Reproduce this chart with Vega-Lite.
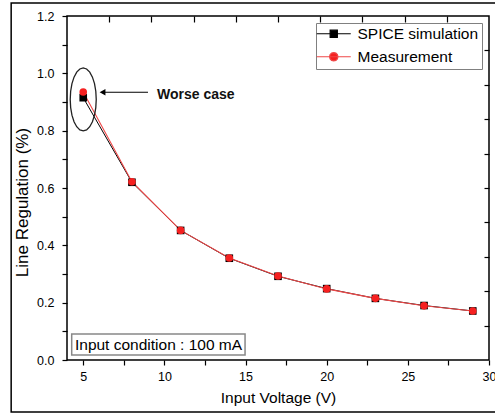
{
  "$schema": "https://vega.github.io/schema/vega-lite/v6.json",
  "width": 422,
  "height": 344,
  "autosize": {"type": "none"},
  "padding": {"left": 67, "top": 16, "right": 6, "bottom": 56},
  "background": "white",
  "config": {
    "font": "Liberation Sans",
    "view": {"stroke": "black", "strokeWidth": 1.5},
    "axis": {"grid": false, "domain": false, "tickColor": "black", "tickWidth": 1.2, "labelColor": "black", "titleColor": "black", "labelFont": "Liberation Sans", "titleFont": "Liberation Sans", "titleFontWeight": "normal"},
    "legend": {"strokeColor": "#808080", "fillColor": "white", "padding": 3, "cornerRadius": 0}
  },
  "datasets": {
    "series": [
      {"voltage": 5, "regulation": 0.915, "series": "SPICE simulation"},
      {"voltage": 8, "regulation": 0.620, "series": "SPICE simulation"},
      {"voltage": 11, "regulation": 0.452, "series": "SPICE simulation"},
      {"voltage": 14, "regulation": 0.355, "series": "SPICE simulation"},
      {"voltage": 17, "regulation": 0.292, "series": "SPICE simulation"},
      {"voltage": 20, "regulation": 0.249, "series": "SPICE simulation"},
      {"voltage": 23, "regulation": 0.215, "series": "SPICE simulation"},
      {"voltage": 26, "regulation": 0.190, "series": "SPICE simulation"},
      {"voltage": 29, "regulation": 0.171, "series": "SPICE simulation"},
      {"voltage": 5, "regulation": 0.935, "series": "Measurement"},
      {"voltage": 8, "regulation": 0.622, "series": "Measurement"},
      {"voltage": 11, "regulation": 0.452, "series": "Measurement"},
      {"voltage": 14, "regulation": 0.356, "series": "Measurement"},
      {"voltage": 17, "regulation": 0.293, "series": "Measurement"},
      {"voltage": 20, "regulation": 0.248, "series": "Measurement"},
      {"voltage": 23, "regulation": 0.215, "series": "Measurement"},
      {"voltage": 26, "regulation": 0.189, "series": "Measurement"},
      {"voltage": 29, "regulation": 0.171, "series": "Measurement"}
    ],
    "one": [{}]
  },
  "layer": [
    {
      "data": {"name": "one"},
      "mark": {"type": "rect", "fillOpacity": 0, "stroke": "black", "strokeWidth": 1.5},
      "encoding": {
        "x": {"datum": 0.56, "type": "quantitative", "scale": {"domain": [4, 30], "nice": false, "zero": false}, "axis": null},
        "x2": {"datum": 32},
        "y": {"datum": -0.181, "type": "quantitative", "scale": {"domain": [0, 1.2], "nice": false, "zero": false}, "axis": null},
        "y2": {"datum": 1.245}
      }
    },
    {
      "data": {"name": "series"},
      "transform": [{"filter": "datum.series === 'SPICE simulation'"}],
      "mark": {"type": "line", "color": "#000000", "strokeWidth": 1},
      "encoding": {
        "x": {"field": "voltage", "type": "quantitative", "scale": {"domain": [4, 30], "nice": false, "zero": false},
          "axis": {"orient": "bottom", "values": [5, 7.5, 10, 12.5, 15, 17.5, 20, 22.5, 25, 27.5, 30],
            "labelExpr": "datum.value % 5 === 0 ? datum.label : ''",
            "tickSize": 5, "labelPadding": 5, "labelFontSize": 12.5, "labelFlush": false,
            "title": "Input Voltage (V)", "titleFontSize": 15.5, "titlePadding": 8,
            "encode": {"ticks": {"update": {"y2": {"signal": "datum.value % 5 === 0 ? 5 : 3"}}}}}},
        "y": {"field": "regulation", "type": "quantitative", "scale": {"domain": [0, 1.2], "nice": false, "zero": false},
          "axis": {"orient": "left", "values": [0, 0.1, 0.2, 0.3, 0.4, 0.5, 0.6, 0.7, 0.8, 0.9, 1.0, 1.1, 1.2],
            "labelExpr": "round(datum.value*10) % 2 === 0 ? format(datum.value, '.1f') : ''",
            "tickSize": 5, "labelPadding": 8, "labelFontSize": 12.5, "labelFlush": false,
            "title": "Line Regulation (%)", "titleFontSize": 17, "titlePadding": 5, "titleY": 186,
            "encode": {"ticks": {"update": {"x2": {"signal": "round(datum.value*10) % 2 === 0 ? -5 : -3"}}}}}}
      }
    },
    {
      "data": {"name": "series"},
      "transform": [{"filter": "datum.series === 'Measurement'"}],
      "mark": {"type": "line", "color": "#f04848", "strokeWidth": 1.1, "opacity": 1},
      "encoding": {
        "x": {"field": "voltage", "type": "quantitative", "scale": {"domain": [4, 30], "nice": false, "zero": false}, "axis": null},
        "y": {"field": "regulation", "type": "quantitative", "scale": {"domain": [0, 1.2], "nice": false, "zero": false}, "axis": null}
      }
    },
    {
      "data": {"name": "series"},
      "transform": [{"filter": "datum.series === 'SPICE simulation'"}],
      "mark": {"type": "point", "shape": "square", "filled": true, "size": 58, "opacity": 1, "color": "#000000"},
      "encoding": {
        "x": {"field": "voltage", "type": "quantitative", "scale": {"domain": [4, 30], "nice": false, "zero": false}, "axis": null},
        "y": {"field": "regulation", "type": "quantitative", "scale": {"domain": [0, 1.2], "nice": false, "zero": false}, "axis": null}
      }
    },
    {
      "data": {"name": "series"},
      "transform": [{"filter": "datum.series === 'Measurement'"}],
      "mark": {"type": "point", "shape": "circle", "filled": true, "size": 58, "opacity": 1, "color": "#f52020"},
      "encoding": {
        "x": {"field": "voltage", "type": "quantitative", "scale": {"domain": [4, 30], "nice": false, "zero": false}, "axis": null},
        "y": {"field": "regulation", "type": "quantitative", "scale": {"domain": [0, 1.2], "nice": false, "zero": false}, "axis": null}
      }
    },
    {
      "data": {"name": "series"},
      "mark": {"type": "point", "filled": true, "size": 0, "opacity": 1, "strokeWidth": 1.2},
      "encoding": {
        "x": {"field": "voltage", "type": "quantitative", "scale": {"domain": [4, 30], "nice": false, "zero": false}, "axis": null},
        "y": {"field": "regulation", "type": "quantitative", "scale": {"domain": [0, 1.2], "nice": false, "zero": false}, "axis": null},
        "fill": {"field": "series", "type": "nominal",
          "scale": {"domain": ["SPICE simulation", "Measurement"], "range": ["#000000", "#f52020"]},
          "legend": {"orient": "none", "legendX": 249, "legendY": 7, "title": null, "labelFontSize": 15.5, "labelColor": "black",
            "labelFont": "Liberation Sans", "symbolSize": 144, "symbolOpacity": 1, "symbolStrokeWidth": 1.2,
            "strokeColor": "#808080", "fillColor": "white",
            "padding": 3, "rowPadding": 6, "labelOffset": 23, "cornerRadius": 0}},
        "stroke": {"field": "series", "type": "nominal",
          "scale": {"domain": ["SPICE simulation", "Measurement"], "range": ["#000000", "#f04848"]},
          "legend": {"orient": "none", "legendX": 249, "legendY": 7, "title": null, "labelFontSize": 15.5, "labelColor": "black",
            "labelFont": "Liberation Sans", "symbolSize": 144, "symbolOpacity": 1, "symbolStrokeWidth": 1.2,
            "strokeColor": "#808080", "fillColor": "white",
            "padding": 3, "rowPadding": 6, "labelOffset": 23, "cornerRadius": 0}},
        "shape": {"field": "series", "type": "nominal",
          "scale": {"domain": ["SPICE simulation", "Measurement"],
            "range": ["M-1.667,0H4M0.567,-0.6H1.767V0.6H0.567Z",
              "M-1.667,0H4M1.867,0L1.773,0.35L1.517,0.606L1.167,0.7L0.817,0.606L0.561,0.35L0.467,0L0.561,-0.35L0.817,-0.606L1.167,-0.7L1.517,-0.606L1.773,-0.35Z"]},
          "legend": {"orient": "none", "legendX": 249, "legendY": 7, "title": null, "labelFontSize": 15.5, "labelColor": "black",
            "labelFont": "Liberation Sans", "symbolSize": 144, "symbolOpacity": 1, "symbolStrokeWidth": 1.2,
            "strokeColor": "#808080", "fillColor": "white",
            "padding": 3, "rowPadding": 6, "labelOffset": 23, "cornerRadius": 0}}
      }
    },
    {
      "data": {"name": "one"},
      "mark": {"type": "point", "filled": false, "stroke": "#222222", "strokeWidth": 1.3, "size": 3969, "opacity": 1,
        "shape": "M0.413,0L0.399,0.259L0.358,0.5L0.292,0.707L0.207,0.866L0.107,0.966L0,1L-0.107,0.966L-0.207,0.866L-0.292,0.707L-0.358,0.5L-0.399,0.259L-0.413,0L-0.399,-0.259L-0.358,-0.5L-0.292,-0.707L-0.207,-0.866L-0.107,-0.966L0,-1L0.107,-0.966L0.207,-0.866L0.292,-0.707L0.358,-0.5L0.399,-0.259Z"},
      "encoding": {
        "x": {"datum": 5.0, "type": "quantitative", "scale": {"domain": [4, 30], "nice": false, "zero": false},
          "axis": {"orient": "top", "values": [6.6, 9.2, 11.8, 14.4, 17, 19.6, 22.2, 24.8, 27.4], "labels": false, "tickSize": -6, "title": null}},
        "y": {"datum": 0.909, "type": "quantitative", "scale": {"domain": [0, 1.2], "nice": false, "zero": false},
          "axis": {"orient": "right", "values": [0.12, 0.24, 0.36, 0.48, 0.6, 0.72, 0.84, 0.96, 1.08], "labels": false, "tickSize": -5, "title": null}}
      }
    },
    {
      "data": {"name": "one"},
      "mark": {"type": "rule", "color": "black", "strokeWidth": 1.2},
      "encoding": {
        "x": {"datum": 6.2, "type": "quantitative", "scale": {"domain": [4, 30], "nice": false, "zero": false}, "axis": null},
        "x2": {"datum": 8.99},
        "y": {"datum": 0.934, "type": "quantitative", "scale": {"domain": [0, 1.2], "nice": false, "zero": false}, "axis": null}
      }
    },
    {
      "data": {"name": "one"},
      "mark": {"type": "point", "shape": "triangle-left", "filled": true, "color": "black", "size": 45, "opacity": 1},
      "encoding": {
        "x": {"datum": 6.19, "type": "quantitative", "scale": {"domain": [4, 30], "nice": false, "zero": false}, "axis": null},
        "y": {"datum": 0.934, "type": "quantitative", "scale": {"domain": [0, 1.2], "nice": false, "zero": false}, "axis": null}
      }
    },
    {
      "data": {"name": "one"},
      "mark": {"type": "text", "text": "Worse case", "font": "Liberation Sans", "fontWeight": "bold", "fontSize": 14, "align": "left", "baseline": "middle", "color": "#111111"},
      "encoding": {
        "x": {"datum": 9.545, "type": "quantitative", "scale": {"domain": [4, 30], "nice": false, "zero": false}, "axis": null},
        "y": {"datum": 0.924, "type": "quantitative", "scale": {"domain": [0, 1.2], "nice": false, "zero": false}, "axis": null}
      }
    },
    {
      "data": {"name": "one"},
      "mark": {"type": "rect", "fill": "white", "stroke": "#888888", "strokeWidth": 1.5},
      "encoding": {
        "x": {"datum": 4.29, "type": "quantitative", "scale": {"domain": [4, 30], "nice": false, "zero": false}, "axis": null},
        "x2": {"datum": 14.97},
        "y": {"datum": 0.0174, "type": "quantitative", "scale": {"domain": [0, 1.2], "nice": false, "zero": false}, "axis": null},
        "y2": {"datum": 0.0907}
      }
    },
    {
      "data": {"name": "one"},
      "mark": {"type": "text", "text": "Input condition : 100 mA", "font": "Liberation Sans", "fontSize": 15.5, "align": "left", "baseline": "middle", "color": "black"},
      "encoding": {
        "x": {"datum": 4.49, "type": "quantitative", "scale": {"domain": [4, 30], "nice": false, "zero": false}, "axis": null},
        "y": {"datum": 0.054, "type": "quantitative", "scale": {"domain": [0, 1.2], "nice": false, "zero": false}, "axis": null}
      }
    }
  ],
  "resolve": {"scale": {"x": "shared", "y": "shared"}, "axis": {"x": "independent", "y": "independent"}}
}
